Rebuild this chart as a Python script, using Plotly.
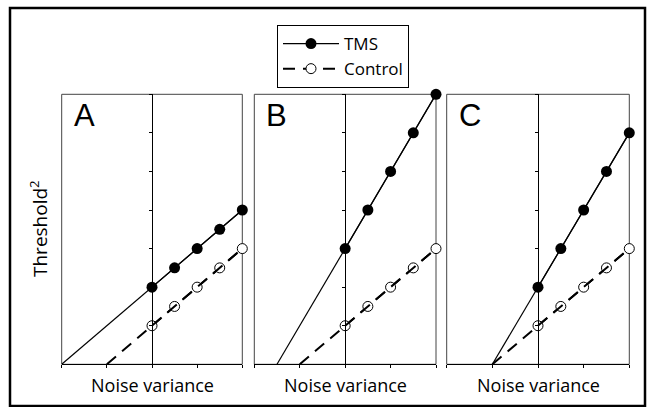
import plotly.graph_objects as go

W, H = 649, 407

# ---- data ----
panels = ["A", "B", "C"]
noise_x = [0.0, 0.5, 1.0, 1.5, 2.0]
tms_A = [2.0, 2.5, 3.0, 3.5, 4.0]
tms_B = [3.0, 4.0, 5.0, 6.0, 7.0]
tms_C = [2.0, 3.0, 4.0, 5.0, 6.0]
control_A = [1.0, 1.5, 2.0, 2.5, 3.0]
control_B = [1.0, 1.5, 2.0, 2.5, 3.0]
control_C = [1.0, 1.5, 2.0, 2.5, 3.0]
# x where extrapolated lines reach threshold 0
tms_x_intercept = [-2.0, -1.5, -1.0]
control_x_intercept = [-1.0, -1.0, -1.0]
x_ticks = [-2, -1, 0, 1, 2]
y_ticks = [0, 1, 2, 3, 4, 5, 6, 7]

tms_series = [tms_A, tms_B, tms_C]
control_series = [control_A, control_B, control_C]

# ---- layout helpers (pixels -> paper) ----
def px(x):
    return x / W

def py(y):
    return 1 - y / H

panel_px = [(61.7, 242.3), (254.3, 436.0), (446.7, 629.3)]
y_dom = [py(364.3), py(94.3)]

FONT = "Open Sans"
fig = go.Figure()

for i, (name, tms, ctl) in enumerate(zip(panels, tms_series, control_series)):
    k = "" if i == 0 else str(i + 1)
    xa, ya = "x" + k, "y" + k
    # TMS extrapolation line
    fig.add_trace(go.Scatter(
        x=[tms_x_intercept[i]] + noise_x, y=[0] + tms, mode="lines",
        line=dict(color="black", width=1.2), xaxis=xa, yaxis=ya,
        showlegend=False, hoverinfo="skip", cliponaxis=False))
    # TMS points
    fig.add_trace(go.Scatter(
        x=noise_x, y=tms, mode="lines+markers", name="TMS",
        line=dict(color="black", width=1.2),
        marker=dict(symbol="circle", size=11, color="black"),
        xaxis=xa, yaxis=ya, showlegend=(i == 0), cliponaxis=False))
    # Control points (open)
    fig.add_trace(go.Scatter(
        x=noise_x, y=ctl, mode="lines+markers", name="Control",
        line=dict(color="black", width=2, dash="12px,8px"),
        marker=dict(symbol="circle", size=10, color="white",
                    line=dict(color="black", width=1)),
        xaxis=xa, yaxis=ya, showlegend=(i == 0), cliponaxis=False))
    # Control dashed extrapolation line on top of markers
    fig.add_trace(go.Scatter(
        x=[control_x_intercept[i]] + noise_x, y=[0] + ctl, mode="lines",
        line=dict(color="black", width=2, dash="12px,8px"),
        xaxis=xa, yaxis=ya, showlegend=False, hoverinfo="skip",
        cliponaxis=False))

    x0, x1 = panel_px[i]
    xc = (x0 + x1) / 2
    fig.layout["xaxis" + k] = dict(
        domain=[px(x0), px(x1)], range=[-2, 2], anchor=ya,
        showline=True, linecolor="black", linewidth=1,
        ticks="outside", ticklen=3, tickwidth=1, tickcolor="black",
        tickvals=x_ticks, showticklabels=False, showgrid=False,
        zeroline=False, fixedrange=True)
    fig.layout["yaxis" + k] = dict(
        domain=y_dom, range=[0, 7], anchor="free", position=px(xc),
        showline=True, linecolor="black", linewidth=1.2,
        ticks="outside", ticklen=3, tickwidth=1, tickcolor="black",
        tickvals=y_ticks, showticklabels=False, showgrid=False,
        zeroline=False, fixedrange=True)
    fig.add_shape(type="rect", xref=xa + " domain", yref=ya + " domain",
                  x0=0, x1=1, y0=0, y1=1, layer="below",
                  line=dict(color="#444444", width=1))
    fig.add_annotation(text=name, x=px(x0 + 10), y=py(115.5),
                       xref="paper", yref="paper", xanchor="left",
                       yanchor="middle", showarrow=False,
                       font=dict(family="Liberation Sans", size=31,
                                 color="black"))
    fig.add_annotation(text="Noise variance", x=px(xc), y=py(385),
                       xref="paper", yref="paper", xanchor="center",
                       yanchor="middle", showarrow=False,
                       font=dict(family=FONT, size=18, color="black"))

fig.add_annotation(text="Threshold<sup>2</sup>", x=px(39), y=py(229),
                   xref="paper", yref="paper", textangle=-90,
                   xanchor="center", yanchor="middle", showarrow=False,
                   font=dict(family=FONT, size=19, color="black"))

# outer frame
fig.add_shape(type="rect", xref="paper", yref="paper",
              x0=px(10), x1=px(645), y0=py(406), y1=py(8),
              line=dict(color="black", width=2.5))

fig.update_layout(
    width=W, height=H,
    margin=dict(l=0, r=0, t=0, b=0),
    paper_bgcolor="white", plot_bgcolor="white",
    showlegend=True,
    legend=dict(x=px(277), y=py(25), xanchor="left", yanchor="top",
                bordercolor="black", borderwidth=1, bgcolor="white",
                font=dict(family=FONT, size=17, color="black"),
                itemwidth=56, tracegroupgap=0),
    font=dict(family=FONT, color="black"),
)

fig.write_html("out.html", config={"displayModeBar": False},
               post_script="document.body.style.margin='0';"
                           "document.body.style.padding='0';")
